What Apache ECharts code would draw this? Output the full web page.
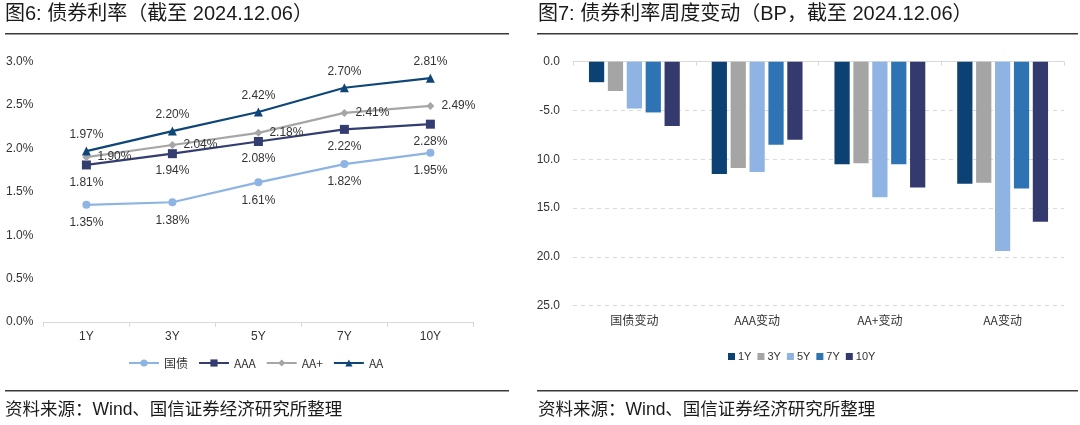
<!DOCTYPE html>
<html>
<head>
<meta charset="utf-8">
<script src="https://cdn.jsdelivr.net/npm/echarts@6/dist/echarts.min.js"></script>
<style>
html,body{margin:0;padding:0;background:#fff;}
#left{position:absolute;left:0;top:0;width:537px;height:425px;}
#right{position:absolute;left:537px;top:0;width:543px;height:425px;overflow:hidden;}
</style>
</head>
<body>
<div id="left"></div>
<div id="right"></div>
<script>
// ---- Left chart data: bond yields (%) ----
const tenors = ['1Y', '3Y', '5Y', '7Y', '10Y'];
const govYield = [1.35, 1.38, 1.61, 1.82, 1.95];
const aaaYield = [1.81, 1.94, 2.08, 2.22, 2.28];
const aaPlusYield = [1.90, 2.04, 2.18, 2.41, 2.49];
const aaYield = [1.97, 2.20, 2.42, 2.70, 2.81];
const yieldSeriesNames = ['国债', 'AAA', 'AA+', 'AA'];

// ---- Right chart data: weekly change (BP) ----
const changeCategories = ['国债变动', 'AAA变动', 'AA+变动', 'AA变动'];
const chg1Y = [-2.1, -11.5, -10.5, -12.5];
const chg3Y = [-3.0, -10.9, -10.4, -12.4];
const chg5Y = [-4.8, -11.3, -13.9, -19.4];
const chg7Y = [-5.2, -8.5, -10.5, -13.0];
const chg10Y = [-6.6, -8.0, -12.9, -16.4];
const changeSeriesNames = ['1Y', '3Y', '5Y', '7Y', '10Y'];

const leftTitle = '图6: 债券利率（截至 2024.12.06）';
const rightTitle = '图7: 债券利率周度变动（BP，截至 2024.12.06）';
const sourceText = '资料来源：Wind、国信证券经济研究所整理';

const CJK = '"Noto Sans CJK SC", "Liberation Sans", sans-serif';
const MIX = '"Liberation Sans", "Noto Sans CJK SC", sans-serif';
const LAT = '"Liberation Sans", Arial, sans-serif';
const TXT = '#333333';

function frame(titleX, lineX1, lineX2, title) {
  return [
    {type:'text', left:titleX, top:4, style:{text:title, font:'20px ' + MIX, fill:'#1a1a1a'}},
    {type:'rect', shape:{x:lineX1, y:33, width:lineX2-lineX1, height:1.6}, style:{fill:'#3a3a3a'}},
    {type:'rect', shape:{x:lineX1, y:390, width:lineX2-lineX1, height:1.6}, style:{fill:'#3a3a3a'}},
    {type:'text', left:titleX, top:401, style:{text:sourceText, font:'17.5px ' + MIX, fill:'#1a1a1a'}}
  ];
}

// ---------- Left ----------
const left = echarts.init(document.getElementById('left'), null, {renderer:'canvas'});
const lineColors = ['#8DB4E2', '#343D70', '#A6A6A6', '#0E4677'];
const symbols = ['circle', 'rect', 'diamond', 'triangle'];
const symSizes = [8, 9, 8, 9];
const yieldData = [govYield, aaaYield, aaPlusYield, aaYield];
const labelPos = ['bottom', 'bottom', 'right', 'top'];
const labelDist = [8, 7, 7, 6];

left.setOption({
  animation:false,
  graphic: frame(5, 5, 509, leftTitle),
  grid:{left:43.4, right:63.6, top:61.7, height:260.3, containLabel:false, outerBoundsMode:'none'},
  legend:{
    left:123, top:352, itemWidth:30, itemHeight:9, itemGap:10,
    textStyle:{fontFamily:CJK, fontSize:12, color:TXT},
    data:yieldSeriesNames
  },
  xAxis:{
    type:'category', data:tenors, boundaryGap:true,
    axisLine:{lineStyle:{color:'#D9D9D9', width:1}},
    axisTick:{show:true, length:5, lineStyle:{color:'#D9D9D9'}},
    axisLabel:{fontFamily:LAT, fontSize:12, color:TXT, margin:9}
  },
  yAxis:{
    type:'value', min:0, max:3, interval:0.5,
    axisLine:{show:false}, axisTick:{show:false}, splitLine:{show:false},
    axisLabel:{fontFamily:LAT, fontSize:12, color:TXT, margin:10,
      formatter:v => v.toFixed(1) + '%'}
  },
  series: yieldSeriesNames.map((n, i) => ({
    name:n, type:'line', data:yieldData[i],
    symbol:symbols[i], symbolSize:symSizes[i], showAllSymbol:true,
    lineStyle:{color:lineColors[i], width:2.2},
    itemStyle:{color:lineColors[i]},
    label:{show:true, position:labelPos[i], distance:labelDist[i],
      fontFamily:LAT, fontSize:12, color:TXT,
      formatter:p => p.value.toFixed(2) + '%'}
  }))
});

// ---------- Right ----------
const right = echarts.init(document.getElementById('right'), null, {renderer:'canvas'});
const barColors = ['#0B4273', '#A5A5A5', '#8FB4E3', '#2E74B5', '#343A6D'];
const chgData = [chg1Y, chg3Y, chg5Y, chg7Y, chg10Y];

right.setOption({
  animation:false,
  graphic: frame(1, 0, 541, rightTitle),
  grid:{left:36, right:16, top:61.7, height:244, containLabel:false, outerBoundsMode:'none'},
  legend:{
    left:186, top:346, itemWidth:7, itemHeight:7, itemGap:6,
    icon:'rect',
    textStyle:{fontFamily:LAT, fontSize:11, color:TXT, padding:[0,0,0,-2]},
    data:changeSeriesNames
  },
  xAxis:[{
    type:'category', data:changeCategories, position:'top',
    axisLine:{onZero:false, lineStyle:{color:'#D9D9D9', width:1}},
    axisTick:{show:true, inside:true, length:4, lineStyle:{color:'#D9D9D9'}},
    axisLabel:{show:false}
  },{
    type:'category', data:changeCategories, position:'bottom',
    axisLine:{show:false, onZero:false}, axisTick:{show:false},
    axisLabel:{fontFamily:CJK, fontSize:12, color:TXT, margin:9}
  }],
  yAxis:{
    type:'value', min:-25, max:0, interval:5,
    axisLine:{show:false}, axisTick:{show:false},
    splitLine:{show:true, lineStyle:{color:'#D9D9D9', type:[4,4], width:1}},
    axisLabel:{fontFamily:LAT, fontSize:12, color:TXT, margin:13,
      formatter:v => v.toFixed(1)}
  },
  series: changeSeriesNames.map((n, i) => ({
    name:n, type:'bar', xAxisIndex:0, data:chgData[i],
    barCategoryGap:'26%', barGap:'24%',
    itemStyle:{color:barColors[i]}
  }))
});
</script>
</body>
</html>
